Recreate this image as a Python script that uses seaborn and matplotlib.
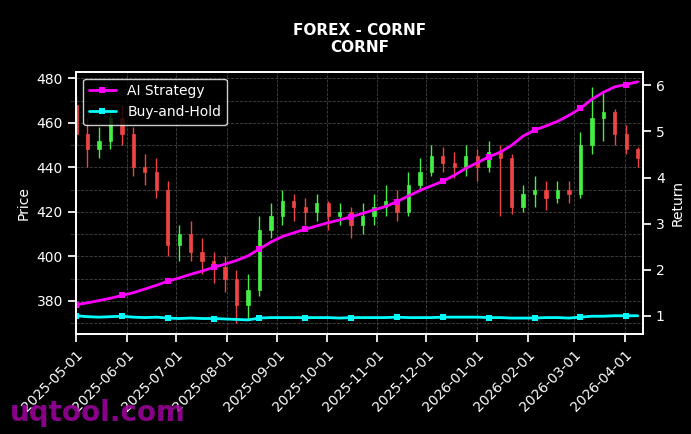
import matplotlib
matplotlib.use("Agg")
import matplotlib.pyplot as plt
import matplotlib.dates as mdates
import seaborn as sns
import pandas as pd
import numpy as np

sns.set_theme(style="dark")
plt.rcParams['font.family'] = ['DejaVu Sans']
plt.rcParams.update({"font.size": 10, "xtick.labelsize": 10, "ytick.labelsize": 10, "axes.labelsize": 10})

dates = pd.date_range("2025-05-01", periods=50, freq="7D")
opens = [468, 455, 448, 452, 462, 455, 440, 438, 430, 405, 410, 402, 398, 395, 390, 378, 385, 412, 418, 425,
         422, 420, 424, 418, 420, 414, 418, 422, 425, 420, 432, 438, 445, 442, 440, 445, 440, 447, 444, 422,
         428, 430, 426, 430, 428, 450, 462, 465, 455, 448]
closes = [455, 448, 452, 462, 455, 440, 438, 430, 405, 410, 402, 398, 395, 390, 378, 385, 412, 418, 425, 422,
          420, 424, 418, 420, 414, 418, 422, 425, 420, 432, 438, 445, 442, 440, 445, 440, 447, 444, 422, 428,
          430, 426, 430, 428, 450, 462, 465, 455, 448, 444]
highs = [472, 462, 458, 466, 468, 458, 446, 444, 434, 414, 416, 408, 402, 400, 394, 392, 418, 424, 430, 428,
         426, 428, 425, 424, 422, 424, 428, 432, 430, 438, 444, 450, 449, 447, 450, 448, 452, 450, 446, 432,
         436, 434, 434, 434, 456, 476, 474, 466, 459, 449]
lows = [450, 440, 444, 448, 450, 436, 432, 426, 400, 398, 398, 392, 388, 384, 370, 372, 382, 408, 414, 416,
        414, 416, 412, 414, 408, 410, 414, 418, 416, 418, 430, 436, 438, 435, 436, 434, 438, 418, 419, 420,
        422, 421, 424, 424, 426, 446, 452, 450, 446, 440]
strategy = [1.24, 1.28, 1.33, 1.38, 1.44, 1.50, 1.58, 1.66, 1.75, 1.82, 1.90, 1.97, 2.05, 2.12, 2.20, 2.30,
            2.45, 2.60, 2.72, 2.80, 2.88, 2.95, 3.02, 3.08, 3.15, 3.22, 3.30, 3.37, 3.48, 3.60, 3.72, 3.82,
            3.92, 4.05, 4.20, 4.32, 4.45, 4.55, 4.70, 4.90, 5.03, 5.12, 5.22, 5.35, 5.50, 5.70, 5.85, 5.97,
            6.02, 6.08]
buyhold = [1.00, 0.98, 0.97, 0.98, 0.99, 0.97, 0.96, 0.97, 0.95, 0.94, 0.95, 0.94, 0.94, 0.93, 0.92, 0.91,
           0.95, 0.96, 0.96, 0.96, 0.96, 0.96, 0.96, 0.95, 0.96, 0.96, 0.96, 0.96, 0.97, 0.96, 0.96, 0.96,
           0.97, 0.97, 0.97, 0.97, 0.96, 0.96, 0.95, 0.95, 0.95, 0.96, 0.96, 0.95, 0.97, 0.99, 0.99, 1.00,
           1.00, 1.00]

df = pd.DataFrame({"date": dates, "open": opens, "close": closes, "high": highs, "low": lows,
                   "strategy": strategy, "buyhold": buyhold})

fig, ax = plt.subplots(figsize=(6.91, 4.34), dpi=100)
fig.patch.set_facecolor("black")
ax.set_facecolor("black")

up = df["close"] >= df["open"]
col = np.where(up, "#44ee44", "#ee4444")
ax.vlines(df["date"], df["low"], df["high"], colors=col, linewidth=1)
ax.bar(df["date"], (df["close"] - df["open"]).abs().clip(lower=0.8), bottom=np.minimum(df["open"], df["close"]),
       width=2, color=col, edgecolor=col, linewidth=0.5)

ax.set_ylim(365, 483)
ax.set_xlim(pd.Timestamp("2025-05-01"), pd.Timestamp("2026-04-12"))
ax.set_ylabel("Price", color="white")
ax.tick_params(colors="white", left=True, bottom=True)
ax.yaxis.set_minor_locator(matplotlib.ticker.AutoMinorLocator(2))
ax.grid(True, which="both", color="#444444", linestyle="--", linewidth=0.6)
ax.xaxis.set_major_locator(mdates.MonthLocator())
ax.xaxis.set_major_formatter(mdates.DateFormatter("%Y-%m-%d"))
plt.setp(ax.get_xticklabels(), rotation=45, ha="right", rotation_mode="anchor")

ax2 = ax.twinx()
sns.lineplot(data=df, x="date", y="strategy", ax=ax2, color="#ff00ff", linewidth=2, marker="s",
             markersize=4, markevery=4, markeredgewidth=0, label="AI Strategy")
sns.lineplot(data=df, x="date", y="buyhold", ax=ax2, color="#00ffff", linewidth=2, marker="s",
             markersize=4, markevery=4, markeredgewidth=0, label="Buy-and-Hold")
ax2.set_ylim(0.6, 6.3)
ax2.set_ylabel("Return", color="white")
ax2.set_xlabel("")
ax2.tick_params(colors="white", right=True)
for a in (ax, ax2):
    for s in a.spines.values():
        s.set_color("white")
leg = ax2.legend(loc="upper left", facecolor="black", edgecolor="white", labelcolor="white", fontsize=10)

ax.set_title("FOREX - CORNF\nCORNF", color="white", fontweight="bold", fontsize=11, pad=14)
fig.text(0.015, 0.03, "uqtool.com", color="#a000a0", fontsize=20, fontweight="bold", alpha=0.85)
fig.subplots_adjust(left=0.11, right=0.93, top=0.835, bottom=0.23)
fig.savefig("out.png", dpi=100, facecolor="black")
